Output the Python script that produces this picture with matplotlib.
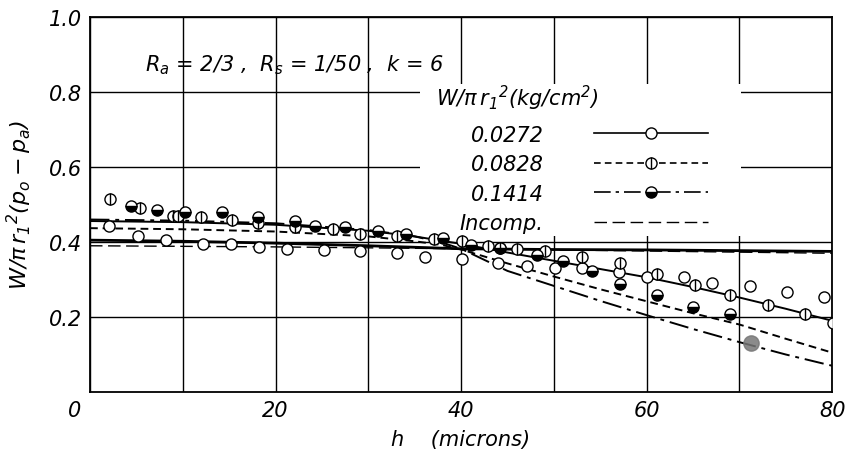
import matplotlib
matplotlib.use("Agg")
import matplotlib.pyplot as plt
from matplotlib.patches import Rectangle
from matplotlib.transforms import ScaledTranslation
from matplotlib.legend_handler import HandlerTuple

plt.rcParams["font.family"] = "DejaVu Sans"
plt.rcParams["font.style"] = "italic"
plt.rcParams["mathtext.fontset"] = "dejavusans"
plt.rcParams["mathtext.default"] = "it"

# ── Data ──────────────────────────────────────────────────────────────
# theory curves
h_a = [0, 10, 20, 30, 35, 40, 45, 50, 55, 60, 65, 70, 75, 80]
w_a = [0.456, 0.453, 0.446, 0.430, 0.415, 0.395, 0.372, 0.350, 0.328, 0.306, 0.280, 0.252, 0.222, 0.190]

h_b = [0, 10, 20, 30, 35, 38, 40, 45, 50, 55, 60, 65, 70, 75, 80]
w_b = [0.437, 0.434, 0.428, 0.415, 0.402, 0.392, 0.380, 0.343, 0.308, 0.274, 0.242, 0.210, 0.180, 0.142, 0.105]

h_c = [0, 10, 20, 30, 35, 38, 40, 45, 50, 55, 60, 65, 70, 75, 80]
w_c = [0.460, 0.457, 0.450, 0.432, 0.415, 0.398, 0.382, 0.323, 0.283, 0.243, 0.205, 0.168, 0.133, 0.100, 0.070]

h_d = [0, 10, 20, 30, 40, 50, 60, 70, 80]
w_d = [0.405, 0.402, 0.397, 0.390, 0.382, 0.380, 0.379, 0.377, 0.375]

h_inc = [0, 20, 40, 60, 80]
w_inc = [0.390, 0.387, 0.382, 0.376, 0.370]

# measured points, W/pi r1^2 = 0.0272 (open circles)
h_0272 = [2.1, 5.2, 8.2, 12.2, 15.2, 18.2, 21.2, 25.2, 29.1, 33.1, 36.1, 40.1,
          44.0, 47.1, 50.1, 53.0, 57.0, 60.0, 64.0, 67.0, 71.2, 75.1, 79.1]
w_0272 = [0.444, 0.415, 0.405, 0.395, 0.395, 0.388, 0.381, 0.379, 0.377, 0.370, 0.361, 0.355,
          0.343, 0.337, 0.331, 0.330, 0.321, 0.308, 0.306, 0.292, 0.284, 0.266, 0.253]

# 0.0828 (circle with vertical bar)
h_0828 = [2.2, 5.4, 9.0, 9.5, 12.0, 15.3, 18.1, 22.1, 26.2, 29.1, 33.1, 37.1, 40.1,
          42.9, 44.2, 46.0, 49.1, 53.0, 57.1, 61.1, 65.2, 69.0, 73.1, 77.1, 80.1]
w_0828 = [0.515, 0.490, 0.470, 0.470, 0.466, 0.460, 0.451, 0.439, 0.435, 0.422, 0.416, 0.408, 0.402,
          0.389, 0.385, 0.381, 0.376, 0.359, 0.343, 0.315, 0.286, 0.259, 0.232, 0.208, 0.184]

# 0.1414 (half filled)
h_1414 = [4.4, 7.2, 10.2, 14.2, 18.1, 22.1, 24.3, 27.5, 31.1, 34.1, 38.1,
          41.1, 44.2, 48.2, 51.0, 54.1, 57.1, 61.1, 65.0, 69.0]
w_1414 = [0.495, 0.486, 0.479, 0.479, 0.466, 0.457, 0.444, 0.439, 0.430, 0.422, 0.412,
          0.393, 0.383, 0.366, 0.350, 0.323, 0.288, 0.259, 0.226, 0.208]

# grey smudge on the scan
h_smudge = [71.3]
w_smudge = [0.130]

legend_labels = ["0.0272", "0.0828", "0.1414", "Incomp."]

# ── Figure ────────────────────────────────────────────────────────────
fig = plt.figure(figsize=(8.53, 4.60), dpi=100)
ax = fig.add_axes([0.1055, 0.1457, 0.870, 0.815])

ax.set_xlim(0, 80)
ax.set_ylim(0, 1.0)
ax.set_xticks(range(0, 81, 10), minor=False)
ax.set_xticklabels(["0", "", "20", "", "40", "", "60", "", "80"])
ax.set_yticks([0.2, 0.4, 0.6, 0.8, 1.0])
ax.set_yticklabels(["0.2", "0.4", "0.6", "0.8", "1.0"])
ax.tick_params(length=0, labelsize=15)
ax.tick_params(axis="x", pad=6)
ax.tick_params(axis="y", pad=6)
ax.grid(True, color="black", linewidth=1.0)
ax.set_axisbelow(True)
for s in ax.spines.values():
    s.set_linewidth(1.3)

# shift the corner "0" to the left like the original
lbl0 = ax.get_xticklabels()[0]
lbl0.set_transform(lbl0.get_transform() + ScaledTranslation(-0.15, 0, fig.dpi_scale_trans))

ax.set_xlabel("h    (microns)", fontsize=15)
ax.set_ylabel(r"$W/\pi\, r_1{}^2(p_o - p_a)$", fontsize=16)
ax.xaxis.set_label_coords(0.5, -0.1)
ax.yaxis.set_label_coords(-0.075, 0.5)

# white box behind legend
ax.add_patch(Rectangle((35.6, 0.416), 34.6, 0.405, facecolor="white",
                       edgecolor="none", zorder=1.5))

# curves
ax.plot(h_a, w_a, color="black", lw=1.4, zorder=3)
ax.plot(h_b, w_b, color="black", lw=1.4, ls=(0, (4, 2.5)), zorder=3)
ax.plot(h_c, w_c, color="black", lw=1.4, ls=(0, (10, 3, 2, 3)), zorder=3)
ax.plot(h_d, w_d, color="black", lw=2.0, zorder=3)
ax.plot(h_inc, w_inc, color="black", lw=1.0, ls=(0, (9, 4)), zorder=3)

ms = 8
ax.plot(h_0272, w_0272, "o", ms=ms, mfc="white", mec="black", mew=1.0, zorder=4)
ax.plot(h_0828, w_0828, "o", ms=ms, mfc="white", mec="black", mew=1.0, zorder=4)
ax.plot(h_0828, w_0828, "|", ms=ms, mec="black", mew=1.0, zorder=5)
ax.plot(h_1414, w_1414, "o", ms=ms, fillstyle="bottom", mfc="black",
        markerfacecoloralt="white", mec="black", mew=1.0, zorder=4)
ax.plot(h_smudge, w_smudge, "o", ms=11, color="#777777", alpha=0.85, zorder=4)

ax.text(5.9, 0.875, r"$R_a$ = 2/3 ,  $R_s$ = 1/50 ,  k = 6", fontsize=15,
        va="center", ha="left")

# legend
ax.text(37.3, 0.785, r"$W/\pi\, r_1{}^2$(kg/cm$^2$)", fontsize=15, va="center", ha="left",
        zorder=6)

h1a, = ax.plot([], [], color="black", lw=1.2)
h1b, = ax.plot([], [], "o", ms=ms, mfc="white", mec="black", mew=1.0)
h2a, = ax.plot([], [], color="black", lw=1.2, ls=(0, (4, 2.5)))
h2b, = ax.plot([], [], "o", ms=ms, mfc="white", mec="black", mew=1.0)
h2c, = ax.plot([], [], "|", ms=ms, mec="black", mew=1.0)
h3a, = ax.plot([], [], color="black", lw=1.2, ls=(0, (10, 3, 2, 3)))
h3b, = ax.plot([], [], "o", ms=ms, fillstyle="bottom", mfc="black",
               markerfacecoloralt="white", mec="black", mew=1.0)
h4a, = ax.plot([], [], color="black", lw=1.0, ls=(0, (9, 4)))

leg = ax.legend([(h1a, h1b), (h2a, h2b, h2c), (h3a, h3b), h4a], legend_labels,
                handler_map={tuple: HandlerTuple(ndivide=1, pad=0)},
                markerfirst=False, numpoints=1, handlelength=5.5, handletextpad=2.4,
                labelspacing=0.45, fontsize=15, frameon=False,
                loc="upper left", bbox_to_anchor=(0.487, 0.735), borderaxespad=0)
leg.set_zorder(6)

fig.savefig("out.png", dpi=100)
